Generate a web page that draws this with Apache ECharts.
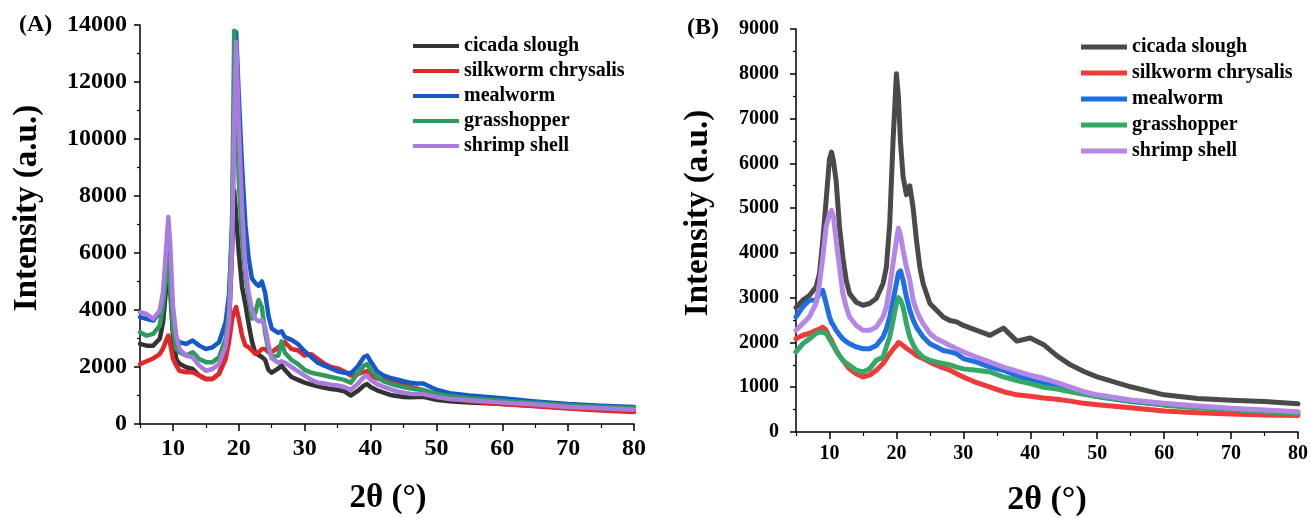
<!DOCTYPE html>
<html>
<head>
<meta charset="utf-8">
<script src="https://cdn.jsdelivr.net/npm/echarts@6/dist/echarts.min.js"></script>
<style>
html,body{margin:0;padding:0;background:#fff;}
#wrap{position:relative;width:1311px;height:518px;}
#chartA{position:absolute;left:0;top:0;width:660px;height:518px;}
#chartB{position:absolute;left:660px;top:0;width:651px;height:518px;}
</style>
</head>
<body>
<div id="wrap"><div id="chartA"></div><div id="chartB"></div></div>
<script>
// ---------- data ----------
const seriesNames = ['cicada slough','silkworm chrysalis','mealworm','grasshopper','shrimp shell'];
const xTickLabels = [10,20,30,40,50,60,70,80];
const xMinorTicks = [5,15,25,35,45,55,65,75];

// Panel A
const xA = [5,6,7,8,8.5,9,9.3,9.6,10,10.5, 11,12,13,14,15,16,17,18,18.5,19, 19.3,19.6,20,20.5,21,21.5,22,22.5,23,23.5, 24,24.5,25,26,26.5,27,28,29,30,31, 32,33,34,35,36,37,38,39,39.5,40, 41,42,43,44,45,46,47,48,50,52, 55,60,65,70,75,80];
const cicadaA = [2810,2750,2750,2990,3570,4860,5560,4630,3100,2280, 2110,1990,1930,1700,1580,1580,1760,2400,3340,6260, 8200,7300,6000,4800,4200,3500,2900,2500,2420,2350, 2250,1900,1800,1950,2050,1900,1650,1550,1450,1380, 1320,1270,1230,1200,1150,1000,1150,1350,1400,1300, 1180,1100,1020,980,950,940,950,950,850,800, 750,700,640,580,530,490];
const silkwormA = [2100,2200,2300,2450,2650,2950,3100,2800,2300,2050, 1870,1815,1815,1700,1580,1580,1760,2280,2870,3690, 3950,4100,3690,3100,2750,2690,2580,2460,2520,2630, 2630,2520,2520,2690,2780,2870,2630,2580,2400,2450, 2280,2110,2000,1950,1850,1700,1750,1830,1850,1700, 1600,1550,1500,1450,1400,1300,1250,1150,1000,900, 800,700,620,540,470,420];
const mealwormA = [3750,3690,3630,3920,4510,5800,6500,5450,3690,2990, 2870,2810,2930,2750,2630,2690,2870,3570,4510,6850, 11000,13750,11500,9000,7000,5800,5100,4950,4850,5000, 4600,3800,3350,3200,3250,3050,2950,2800,2550,2350, 2150,2050,1950,1850,1800,1780,2000,2350,2400,2200, 1850,1700,1620,1560,1500,1450,1420,1420,1200,1080, 1000,900,790,700,640,600];
const grasshopperA = [3220,3100,3160,3450,4160,5330,5800,4740,3340,2630, 2520,2400,2520,2280,2170,2170,2340,2990,3920,7440, 13800,12000,8500,6500,5200,4400,3700,3900,4350,4100, 3200,2600,2350,2400,2900,2500,2250,2100,1900,1800, 1750,1700,1650,1600,1550,1450,1750,2050,2100,1900, 1650,1500,1420,1350,1300,1250,1220,1200,1050,980, 900,820,740,660,600,560];
const shrimpA = [3920,3860,3690,3980,4630,6260,7260,6260,4160,3100, 2630,2400,2340,2050,1870,1930,2110,2750,3570,6260, 10500,13400,10500,7500,5500,4600,4000,3700,3600,3650, 3400,2800,2300,2150,2200,2150,2000,1850,1700,1550, 1450,1420,1380,1350,1300,1200,1400,1650,1700,1550, 1400,1300,1220,1150,1100,1060,1050,1050,950,880, 830,750,680,600,550,500];

// Panel B
const xB = [5,6,7,8,8.5,9,9.5,10,10.3,10.6, 11,11.5,12,12.5,13,14,15,16,17,18, 18.5,19,19.5,20,20.3,20.6,21,21.5,22,22.5, 23,23.5,24,25,26,27,28,29,30,32, 34,36,38,40,42,44,46,48,50,55, 60,65,70,75,80];
const cicadaB = [2780,2940,3050,3240,3530,4280,5170,6100,6250,6050, 5600,4580,3900,3390,3090,2900,2830,2870,2980,3310, 3680,4650,6500,8000,7500,6500,5700,5300,5500,5000, 4280,3680,3310,2870,2720,2570,2490,2460,2380,2270, 2160,2320,2030,2100,1950,1700,1500,1350,1230,1010, 830,750,710,680,630];
const silkwormB = [2080,2160,2200,2270,2300,2340,2270,2120,2050,1950, 1820,1700,1600,1500,1410,1300,1230,1270,1380,1530, 1640,1750,1850,1930,2000,1980,1930,1870,1820,1770, 1710,1670,1640,1560,1490,1430,1380,1300,1230,1100, 1000,900,830,800,760,730,690,640,610,540, 470,430,400,380,370];
const mealwormB = [2570,2790,2940,2950,3090,3160,2870,2570,2450,2380, 2270,2170,2080,2020,1970,1900,1860,1860,1930,2120, 2300,2570,2940,3310,3550,3600,3390,3010,2720,2500, 2340,2230,2120,1970,1900,1820,1790,1750,1640,1560, 1450,1380,1250,1160,1080,1020,940,860,790,680, 610,560,510,470,440];
const grasshopperB = [1790,1970,2080,2200,2230,2230,2200,2080,2000,1930, 1820,1700,1600,1540,1490,1380,1340,1410,1600,1670, 1900,2120,2490,2870,3000,2950,2790,2420,2120,1950, 1820,1740,1670,1600,1560,1530,1500,1450,1410,1380, 1340,1230,1150,1080,1000,960,900,840,790,700, 600,540,500,450,410];
const shrimpB = [2270,2420,2570,2870,3310,3900,4580,4870,4950,4800, 4280,3680,3090,2790,2570,2380,2270,2270,2340,2570, 2790,3240,3760,4280,4550,4400,4060,3680,3390,2940, 2720,2550,2420,2200,2080,2010,1930,1860,1790,1670, 1560,1450,1360,1270,1200,1100,1000,900,830,715, 640,580,530,490,455];

const colorsA = ['#333333','#e3262a','#1559c9','#2f9a5d','#a87bdc'];
const colorsB = ['#4a4a4a','#ef3b3b','#1d6fe3','#34a865','#b487e6'];

// ---------- builder ----------
const FONT = '"Liberation Serif","Times New Roman",serif';
function pairs(xs, ys){ return xs.map((x,i)=>[x, ys[i]]); }

function build(cfg){
  const series = cfg.ys.map((ys,i)=>({
    name: seriesNames[i], type:'line', data: pairs(cfg.xs, ys),
    xAxisIndex:0, yAxisIndex:0, symbol:'none', showSymbol:false,
    lineStyle:{color:cfg.colors[i], width:cfg.lw, join:'round', cap:'round'},
    itemStyle:{color:cfg.colors[i]}, animation:false, z: 2+i
  }));
  return {
    animation:false,
    backgroundColor:'#fff',
    grid:{left:cfg.grid[0], right:cfg.grid[1], top:cfg.grid[2], bottom:cfg.grid[3], containLabel:false},
    xAxis:[{
      type:'value', min:5, max:80, interval:5,
      axisLine:{show:true, onZero:false, lineStyle:{color:'#000', width:1.5}},
      axisTick:{show:true, customValues:xTickLabels, length:7, lineStyle:{color:'#000', width:1.5}},
      axisLabel:{customValues:xTickLabels, margin:cfg.xMargin, color:'#000', fontFamily:FONT, fontWeight:'bold', fontSize:cfg.tickFont},
      splitLine:{show:false}
    },{
      type:'value', min:5, max:80, interval:5, position:'bottom',
      axisLine:{show:false},
      axisTick:{show:true, customValues:xMinorTicks, length:4, lineStyle:{color:'#000', width:1.2}},
      axisLabel:{show:false}, splitLine:{show:false}
    }],
    yAxis:[{
      type:'value', min:0, max:cfg.ymax, interval:cfg.yint,
      axisLine:{show:true, onZero:false, lineStyle:{color:'#000', width:1.5}},
      axisTick:{show:true, length:6, lineStyle:{color:'#000', width:1.5}},
      minorTick:{show:true, splitNumber:2, length:3, lineStyle:{color:'#000', width:1.2}},
      axisLabel:{margin:cfg.yMargin, color:'#000', fontFamily:FONT, fontWeight:'bold', fontSize:cfg.tickFont, formatter:v=>String(v)},
      splitLine:{show:false}
    }],
    legend:{
      orient:'vertical', left:cfg.legend[0], top:cfg.legend[1],
      icon:'rect', itemWidth:46, itemHeight:cfg.legendIconH, itemGap:cfg.legendGap,
      data: seriesNames,
      textStyle:{fontFamily:FONT, fontWeight:'bold', fontSize:cfg.legendFont, color:'#000', lineHeight:cfg.legendFont},
      selectedMode:false
    },
    graphic:[
      {type:'text', left:cfg.tag[0], top:cfg.tag[1], style:{text:cfg.tagText, font:'bold 24px '+FONT, fill:'#000'}},
      {type:'text', x:cfg.ytitle[0], y:cfg.ytitle[1], rotation:Math.PI/2,
        style:{text:'Intensity (a.u.)', font:'bold '+cfg.yTitleFont+'px '+FONT, fill:'#000', align:'center', verticalAlign:'middle'}},
      {type:'text', x:cfg.xtitle[0], y:cfg.xtitle[1],
        style:{text:'2θ (°)', font:'bold '+cfg.xTitleFont+'px '+FONT, fill:'#000', align:'center', verticalAlign:'middle'}}
    ],
    series: series
  };
}

const chartA = echarts.init(document.getElementById('chartA'), null, {renderer:'canvas'});
chartA.setOption(build({
  xs:xA, ys:[cicadaA, silkwormA, mealwormA, grasshopperA, shrimpA], colors:colorsA, lw:4.5,
  grid:[140, 26, 25, 94], ymax:14000, yint:2000, tickFont:24, xMargin:13, yMargin:13,
  legend:[408, 31], legendIconH:4, legendGap:5, legendFont:20,
  tag:[19, 13], tagText:'(A)', ytitle:[27, 208], yTitleFont:33, xtitle:[388, 498], xTitleFont:33
}));

const chartB = echarts.init(document.getElementById('chartB'), null, {renderer:'canvas'});
chartB.setOption(build({
  xs:xB, ys:[cicadaB, silkwormB, mealwormB, grasshopperB, shrimpB], colors:colorsB, lw:5,
  grid:[136, 12, 29, 86], ymax:9000, yint:1000, tickFont:20, xMargin:12, yMargin:17,
  legend:[416, 32], legendIconH:5, legendGap:6, legendFont:20,
  tag:[27, 16], tagText:'(B)', ytitle:[38, 213], yTitleFont:33, xtitle:[387, 500], xTitleFont:34
}));
</script>
</body>
</html>
